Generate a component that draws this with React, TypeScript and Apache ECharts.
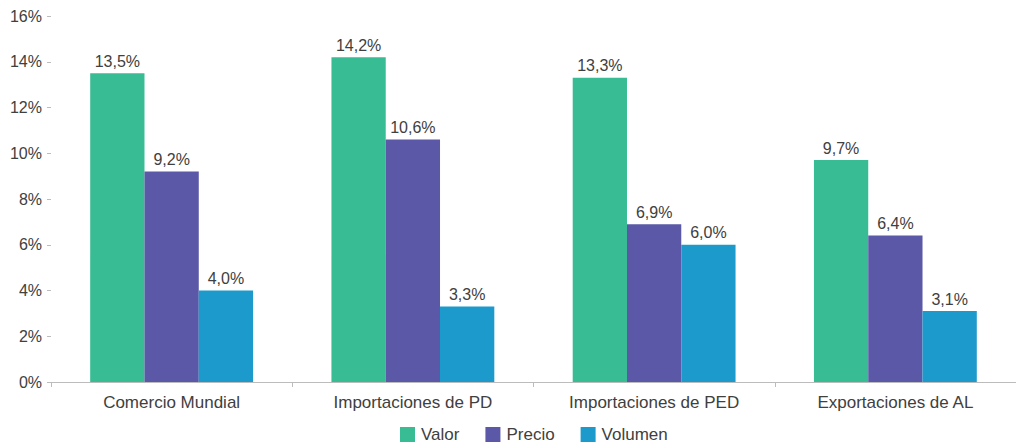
import React, { useEffect, useRef } from "react";
import * as echarts from "echarts";

const categories = ["Comercio Mundial", "Importaciones de PD", "Importaciones de PED", "Exportaciones de AL"];
const valor = [13.5, 14.2, 13.3, 9.7];
const precio = [9.2, 10.6, 6.9, 6.4];
const volumen = [4.0, 3.3, 6.0, 3.1];

const FONT = "Liberation Sans, Arial, sans-serif";

const fmt = (v: number) => v.toFixed(1).replace(".", ",") + "%";

export default function App() {
  const ref = useRef<HTMLDivElement>(null);
  useEffect(() => {
    if (!ref.current) return;
    const chart = echarts.init(ref.current, undefined, { renderer: "svg" });
    const label = {
      show: true,
      position: "top" as const,
      distance: 4,
      color: "#404040",
      fontSize: 16,
      fontFamily: FONT,
      formatter: (p: any) => fmt(p.value),
    };
    const mk = (name: string, data: number[], color: string) => ({
      name,
      type: "bar",
      data,
      barGap: "0%",
      barCategoryGap: "32.5%",
      itemStyle: { color },
      label,
    });
    chart.setOption({
      animation: false,
      textStyle: { fontFamily: FONT },
      grid: { left: 51, top: 16, width: 970, bottom: 64, containLabel: false },
      legend: {
        top: 421,
        left: 395,
        itemWidth: 15,
        itemHeight: 15,
        itemGap: 26,
        itemStyle: { borderWidth: 0 },
        icon: "rect",
        textStyle: { fontSize: 17, color: "#404040", fontFamily: FONT, padding: [0, 0, 0, 1] },
      },
      xAxis: {
        type: "category",
        data: categories,
        axisLine: { lineStyle: { color: "#bcbcbc" } },
        axisTick: { show: true, length: 5, lineStyle: { color: "#bcbcbc" } },
        axisLabel: { fontSize: 17, color: "#404040", margin: 12, fontFamily: FONT },
      },
      yAxis: {
        type: "value",
        min: 0,
        max: 16,
        interval: 2,
        splitLine: { show: false },
        axisLine: { show: false },
        axisTick: { show: true, length: 4, lineStyle: { color: "#bcbcbc" } },
        axisLabel: { fontSize: 16, color: "#404040", margin: 9, formatter: "{value}%", fontFamily: FONT },
      },
      series: [
        mk("Valor", valor, "#37BC94"),
        mk("Precio", precio, "#5A58A7"),
        mk("Volumen", volumen, "#1C9ACC"),
      ],
    });
    return () => chart.dispose();
  }, []);
  return <div ref={ref} style={{ width: 1016, height: 446, position: "absolute", left: 0, top: 0 }} />;
}
